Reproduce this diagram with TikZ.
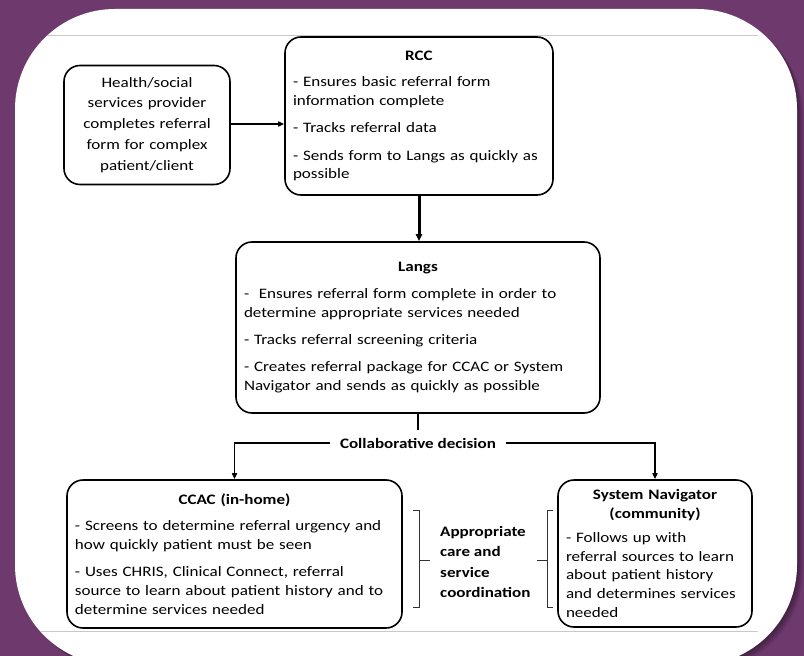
\documentclass[tikz,border=0pt]{standalone}
\usepackage{fontspec}
\setmainfont{Carlito}[FakeStretch=1.18]
\usetikzlibrary{arrows.meta}
\definecolor{bgpurple}{RGB}{110,58,110}
\definecolor{rulegray}{RGB}{200,200,200}
\newcommand{\pgap}{\par\vspace{8.5pt}}
\newcommand{\boxtitle}[1]{{\centering\bfseries #1\par}\vspace{8pt}}
\tikzset{
  box/.style={draw, line width=1.6bp, rounded corners=16bp, fill=white, align=left,
    inner xsep=8bp, inner ysep=3bp, font=\fontsize{14.5}{18.8}\selectfont},
  conn/.style={line width=1.8bp, -{Triangle[length=6bp,width=5bp]}},
  bracket/.style={line width=1bp, draw=black!80},
  boldlabel/.style={font=\fontsize{14.5}{20.3}\selectfont\bfseries},
}
\begin{document}
\begin{tikzpicture}[x=1bp,y=-1bp]
\useasboundingbox (0,0) rectangle (804,656);
\clip (0,0) rectangle (804,656);
\fill[bgpurple] (0,0) rectangle (804,656);
\foreach \i in {1,...,6}{
  \fill[black, opacity=0.07, rounded corners=100bp] (15+\i,9+\i) rectangle (797+\i,665+\i);
}
\fill[white, rounded corners=100bp] (15,9) rectangle (797,665);
\draw[rulegray, line width=1bp] (47,36) -- (758,36);
\draw[rulegray, line width=1bp] (40,631) -- (758,631);

\node[box, align=center, text width=150bp, minimum width=160bp, minimum height=119bp,
  font=\fontsize{14.5}{21}\selectfont] (health) at (147,125)
  {Health/social\\services provider\\completes referral\\form for complex\\patient/client};

\node[box, text width=252bp, minimum width=268bp, minimum height=158bp] (rcc) at (419,116)
  {\boxtitle{RCC}- Ensures basic referral form\\information complete\pgap
   - Tracks referral data\pgap
   - Sends form to Langs as quickly as\\possible};

\node[box, text width=348bp, minimum width=364bp, minimum height=171bp] (langs) at (418,327.5)
  {\boxtitle{Langs}-\ \ Ensures referral form complete in order to\\determine appropriate services needed\pgap
   - Tracks referral screening criteria\pgap
   - Creates referral package for CCAC or System\\Navigator and sends as quickly as possible};

\node[boldlabel, fill=white, inner xsep=10bp, inner ysep=0bp, minimum height=26bp] (dec) at (418,443)
  {Collaborative decision};

\node[box, text width=319bp, minimum width=335bp, minimum height=148bp] (ccac) at (234.5,554)
  {\boxtitle{CCAC (in-home)}- Screens to determine referral urgency and\\how quickly patient must be seen\pgap
   - Uses CHRIS, Clinical Connect, referral\\source to learn about patient history and to\\determine services needed};

\node[box, text width=178bp, minimum width=194bp, minimum height=147bp] (sn) at (655,553.5)
  {{\centering\bfseries System Navigator\\(community)\par}\vspace{5pt}- Follows up with\\referral sources to learn\\about patient history\\and determines services\\needed};

\node[boldlabel, align=left, anchor=west, inner sep=0bp] (acs) at (440,562)
  {Appropriate\\care and\\service\\coordination};

\draw[conn] (health.east |- 0,124) -- (rcc.west |- 0,124);
\draw[line width=3bp, -{Triangle[length=7bp,width=6bp]}] (rcc.south) -- (rcc.south |- langs.north);
\draw[line width=1.8bp] (langs.south) -- (dec.north);
\draw[conn] (dec.west) -| (ccac.north);
\draw[conn] (dec.east) -| (sn.north);

\draw[bracket] (413,510) -- (419,510) -- (419,607) -- (413,607) (419,560) -- (430,560);
\draw[bracket] (553,510) -- (547,510) -- (547,607) -- (553,607) (547,560) -- (537,560);
\end{tikzpicture}
\end{document}
